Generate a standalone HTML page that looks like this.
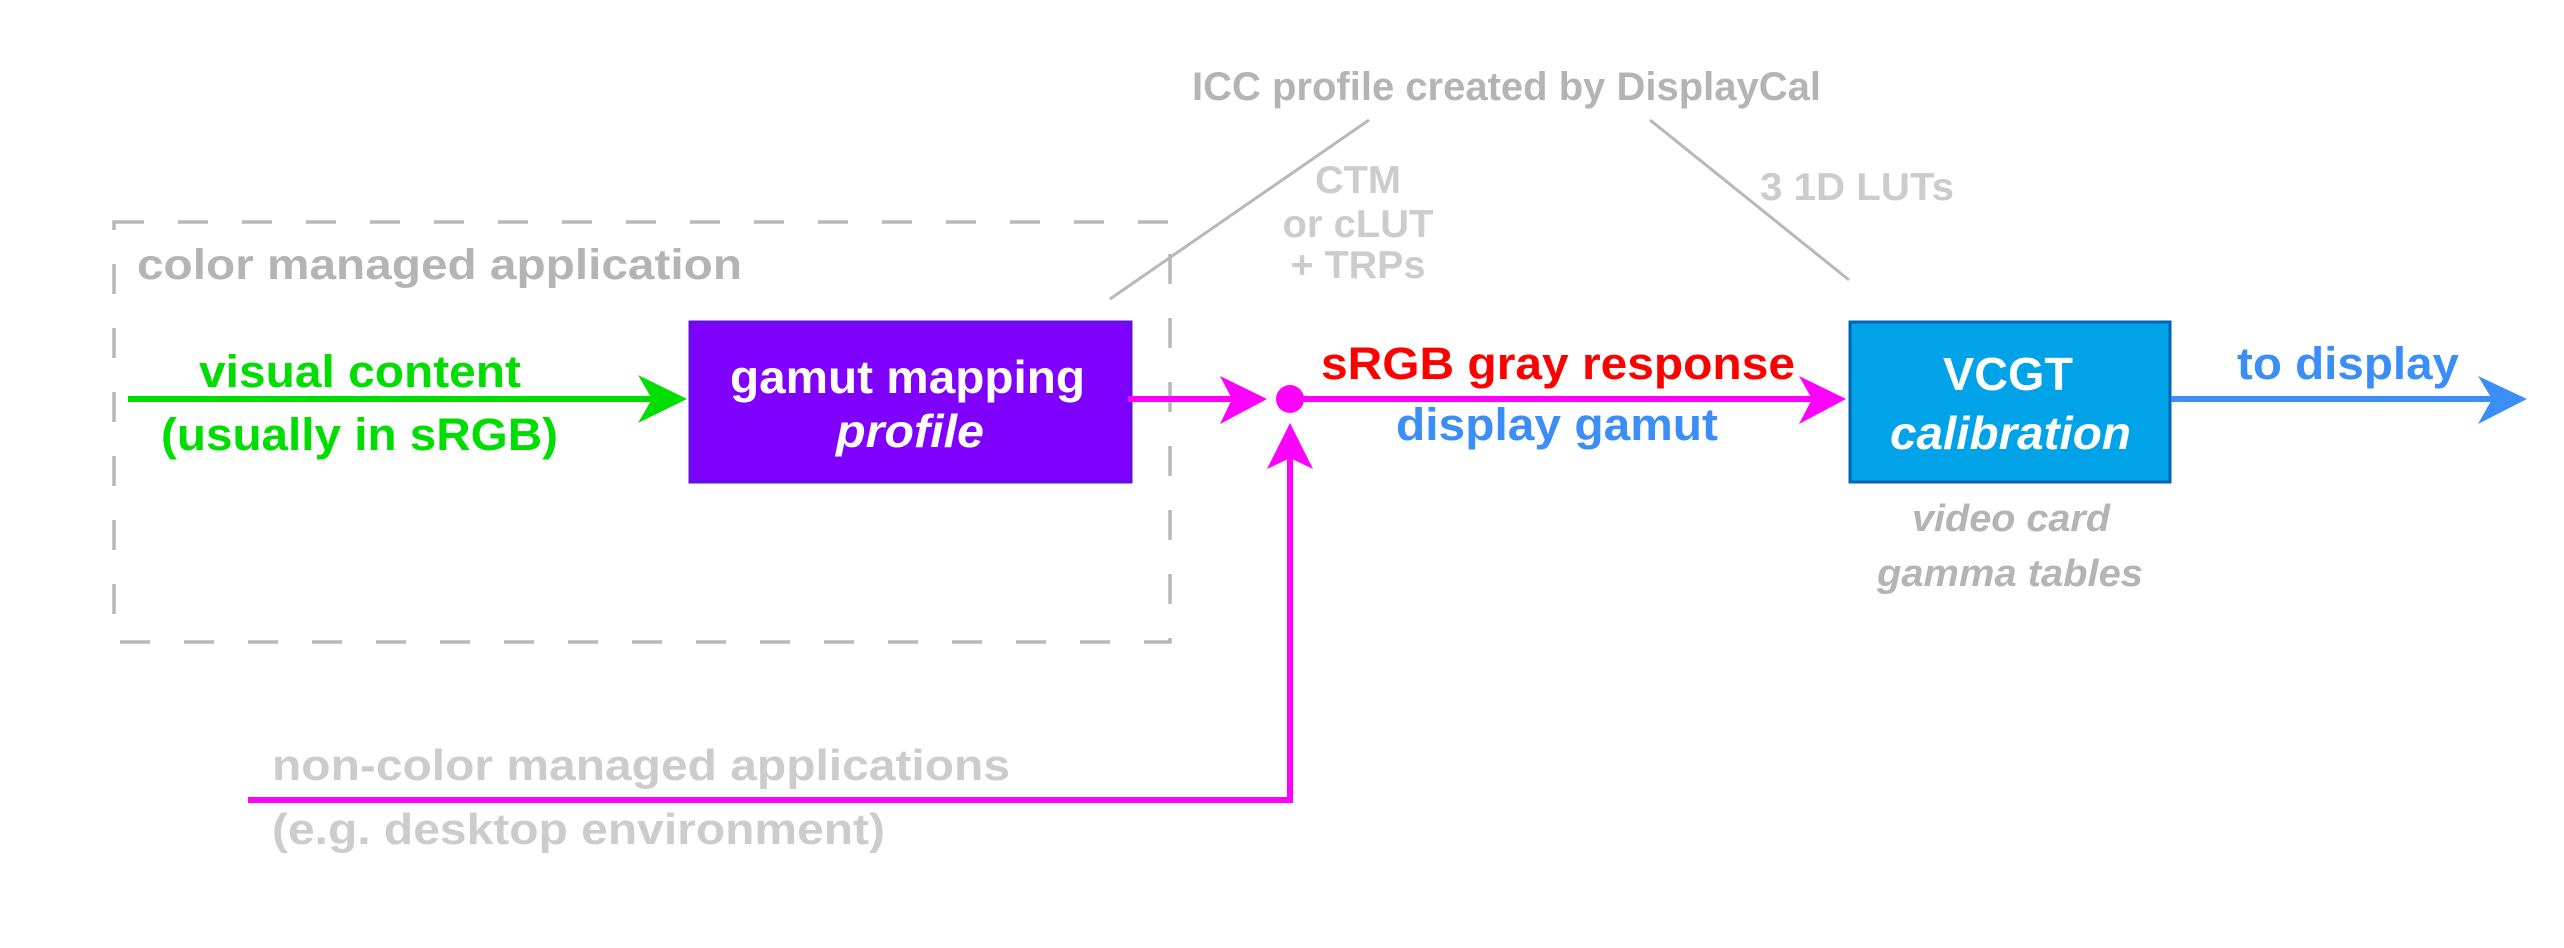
<!DOCTYPE html>
<html><head><meta charset="utf-8"><style>html,body{margin:0;padding:0;background:#fff;overflow:hidden}svg{display:block}</style></head><body>
<svg width="2564" height="948" viewBox="0 0 2564 948" xmlns="http://www.w3.org/2000/svg" font-family="Liberation Sans, sans-serif" font-weight="bold">
<rect x="0" y="0" width="2564" height="948" fill="#fff"/>
<rect x="114" y="222" width="1056" height="420" fill="none" stroke="#b8b8b8" stroke-width="3.5" stroke-dasharray="30,34"/>
<text x="137" y="279" font-size="43" fill="#b4b4b4" textLength="605" lengthAdjust="spacingAndGlyphs">color managed application</text>
<line x1="1110" y1="299" x2="1369" y2="120" stroke="#b8b8b8" stroke-width="3"/>
<line x1="1650" y1="120" x2="1849" y2="280" stroke="#b8b8b8" stroke-width="3"/>
<text x="1192" y="100" font-size="40" fill="#b4b4b4" textLength="629" lengthAdjust="spacingAndGlyphs">ICC profile created by DisplayCal</text>
<g font-size="39" fill="#cccccc" text-anchor="middle">
<text x="1358" y="193" textLength="86" lengthAdjust="spacingAndGlyphs">CTM</text>
<text x="1358" y="237" textLength="151" lengthAdjust="spacingAndGlyphs">or cLUT</text>
<text x="1358" y="278" textLength="135" lengthAdjust="spacingAndGlyphs">+ TRPs</text>
</g>
<text x="1760" y="200" font-size="39" fill="#cccccc" textLength="194" lengthAdjust="spacingAndGlyphs">3 1D LUTs</text>
<!-- green -->
<line x1="128" y1="399" x2="670" y2="399" stroke="#00dd00" stroke-width="6"/>
<polygon points="687,399 638,375 652,399 638,423" fill="#00dd00"/>
<text x="199" y="387" font-size="45" fill="#00dd00" textLength="322" lengthAdjust="spacingAndGlyphs">visual content</text>
<text x="161" y="450" font-size="45" fill="#00dd00" textLength="397" lengthAdjust="spacingAndGlyphs">(usually in sRGB)</text>
<!-- purple box -->
<rect x="690" y="322" width="441" height="160" fill="#8000ff" stroke="#6010e0" stroke-width="3"/>
<text x="730" y="393" font-size="46" fill="#fff" textLength="355" lengthAdjust="spacingAndGlyphs">gamut mapping</text>
<text x="836" y="447" font-size="46" fill="#fff" font-style="italic" textLength="148" lengthAdjust="spacingAndGlyphs">profile</text>
<!-- magenta -->
<line x1="1128" y1="399" x2="1255" y2="399" stroke="#ff00ff" stroke-width="6"/>
<polygon points="1267,399 1220,376 1232,399 1220,424" fill="#ff00ff"/>
<circle cx="1290" cy="399" r="14" fill="#ff00ff"/>
<polyline points="248,800 1290,800 1290,450" fill="none" stroke="#ff00ff" stroke-width="6"/>
<polygon points="1290,423 1267,469 1290,458 1313,469" fill="#ff00ff"/>
<text x="272" y="780" font-size="44" fill="#cccccc" textLength="738" lengthAdjust="spacingAndGlyphs">non-color managed applications</text>
<text x="272" y="844" font-size="44" fill="#cccccc" textLength="613" lengthAdjust="spacingAndGlyphs">(e.g. desktop environment)</text>
<line x1="1300" y1="399" x2="1830" y2="399" stroke="#ff00ff" stroke-width="6"/>
<polygon points="1846,399 1799,376 1812,399 1799,424" fill="#ff00ff"/>
<text x="1321" y="379" font-size="45" fill="#ff0000" textLength="474" lengthAdjust="spacingAndGlyphs">sRGB gray response</text>
<text x="1396" y="440" font-size="45" fill="#3a8ef6" textLength="322" lengthAdjust="spacingAndGlyphs">display gamut</text>
<!-- VCGT -->
<rect x="1850" y="322" width="320" height="160" fill="#00a2e8" stroke="#0066b3" stroke-width="3"/>
<text x="1943" y="390" font-size="46" fill="#fff" textLength="130" lengthAdjust="spacingAndGlyphs">VCGT</text>
<text x="1890" y="449" font-size="46" fill="#fff" font-style="italic" textLength="241" lengthAdjust="spacingAndGlyphs">calibration</text>
<text x="1912" y="531" font-size="38" fill="#b4b4b4" font-style="italic" textLength="198" lengthAdjust="spacingAndGlyphs">video card</text>
<text x="1877" y="586" font-size="38" fill="#b4b4b4" font-style="italic" textLength="266" lengthAdjust="spacingAndGlyphs">gamma tables</text>
<line x1="2171" y1="399" x2="2510" y2="399" stroke="#3a8ef6" stroke-width="6"/>
<polygon points="2527,399 2478,376 2492,399 2478,424" fill="#3a8ef6"/>
<text x="2237" y="379" font-size="45" fill="#3a8ef6" textLength="222" lengthAdjust="spacingAndGlyphs">to display</text>
</svg>
</body></html>
